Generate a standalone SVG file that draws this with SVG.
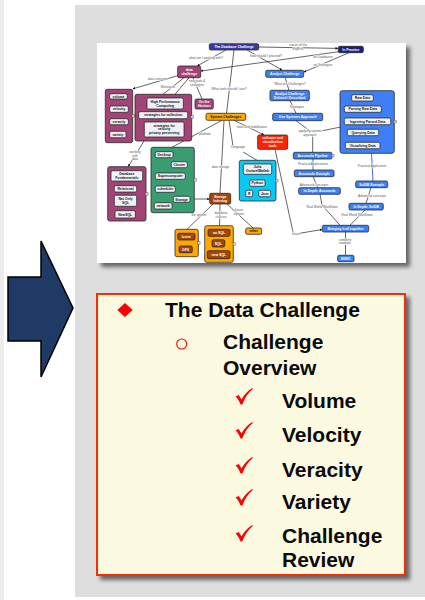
<svg xmlns="http://www.w3.org/2000/svg" width="425" height="600" viewBox="0 0 425 600">
  <defs>
    <filter id="shadow" x="-10%" y="-10%" width="130%" height="130%">
      <feGaussianBlur in="SourceAlpha" stdDeviation="2.2"/>
      <feOffset dx="4" dy="4" result="b"/>
      <feComponentTransfer><feFuncA type="linear" slope="0.55"/></feComponentTransfer>
      <feMerge><feMergeNode/><feMergeNode in="SourceGraphic"/></feMerge>
    </filter>
    <marker id="ah" viewBox="0 0 10 10" refX="9" refY="5" markerWidth="2.6" markerHeight="2.6" markerUnits="userSpaceOnUse" orient="auto">
      <path d="M0,0 L10,5 L0,10 z" fill="#111"/>
    </marker>
    <path id="tick" d="M0,8.5 L3.2,7 L6,11.5 C9,6 12.5,2.5 17,0 L17.3,1 C12.8,4.8 9.3,9.5 6.8,16.5 L5,16.5 C3.8,13 2.2,10.5 0,8.5 z"/>
    <style>
      .panel { fill: #dedede; }
      .map { fill: #ffffff; }
      .ln { stroke: #111; stroke-width: 0.65; fill: none; }
      .lnb { stroke: #2a3fd0; stroke-width: 0.8; fill: none; }
      .lbl { font-family: "Liberation Sans", Arial, sans-serif; font-size: 3.2px; fill: #555; text-anchor: middle; stroke: #fff; stroke-width: 0.8; paint-order: stroke; }
      .nt { font-family: "Liberation Sans", Arial, sans-serif; font-size: 3.4px; font-weight: bold; text-anchor: middle; }
      .w { fill: #ffffff; }
      .k { fill: #111111; }
      .box { stroke: #2a2a2a; stroke-width: 0.8; }
      .item { fill: #eef2f7; stroke: #1a1a1a; stroke-width: 0.7; }
      .mag { fill: #a34476; }
      .blu { fill: #3f7ff5; }
      .dkb { fill: #3b3b9e; }
      .nav { fill: #1c1c86; }
      .grn { fill: #3a9d72; }
      .cyn { fill: #08c8f4; }
      .org { fill: #ffa800; }
      .brn { fill: #a2470e; }
      .red { fill: #ff2400; }
      .ico { fill: #cfcfcf; stroke: #555; stroke-width: 0.4; }
      .bul { font-family: "Liberation Sans", Arial, sans-serif; font-size: 21px; font-weight: bold; fill: #0a0a0a; }
      .chk { fill: #ff0000; }
    </style>
  </defs>

  <!-- page background -->
  <rect x="0" y="0" width="425" height="600" fill="#ffffff"/>
  <rect x="0" y="0" width="4" height="600" fill="#ececec"/>
  <rect class="panel" x="75" y="5" width="350" height="592"/>

  <!-- pointer arrow -->
  <g id="pointer">
    <path d="M8,277 L41,277 L41,241 L73,308 L41,377 L41,341 L8,341 z" fill="#1f3a64" stroke="#000" stroke-width="1.5" stroke-linejoin="miter"/>
  </g>

  <!-- concept map sheet -->
  <g id="concept-map">
    <rect class="map" x="97" y="43" width="309" height="220" filter="url(#shadow)"/>

    <g id="connectors">
      <path class="ln" d="M258.7,47 L337.8,48.4" marker-end="url(#ah)"/>
      <path class="ln" d="M226,50 L197.5,65.8" marker-end="url(#ah)"/>
      <path class="ln" d="M234,50 L226.5,113.3"/>
      <path class="ln" d="M247,50 L282,70.1" marker-end="url(#ah)"/>
      <path class="ln" d="M340,51.5 L201,71" marker-end="url(#ah)"/>
      <path class="ln" d="M349,52.7 L304,72" marker-end="url(#ah)"/>
      <path class="ln" d="M180,75 L133,88.8" marker-end="url(#ah)"/>
      <path class="ln" d="M184,77.7 L163,94.3"/>
      <path class="ln" d="M189,77.7 L175,94.3"/>
      <path class="ln" d="M193,77.7 L202,99"/>
      <path class="ln" d="M144,141 L128.3,166.4" marker-end="url(#ah)"/>
      <path class="ln" d="M222,120.3 L172,147.3"/>
      <path class="ln" d="M234,120.3 L263.8,134.8" marker-end="url(#ah)"/>
      <path class="ln" d="M229,120.3 L233,146 M243,152 L257,160.3"/>
      <path class="ln" d="M224,120.3 L220,193.3"/>
      <path class="ln" d="M194.3,199 L209.5,199" marker-end="url(#ah)"/>
      <path class="ln" d="M213,204 L187,229.3"/>
      <path class="ln" d="M220,204 L219.6,225.7"/>
      <path class="ln" d="M227,204 L253,228"/>
      <path class="ln" d="M275,149.3 L293.5,234.3 L322.1,229.5" marker-end="url(#ah)"/>
      <path class="ln" d="M285,77.3 L289,90.3"/>
      <path class="ln" d="M290,100.7 L296,113.3"/>
      <path class="ln" d="M296,120.7 L310,131 M312.7,136.5 L312.7,152.3"/>
      <path class="ln" d="M322.5,130.7 L343.8,126.4" marker-end="url(#ah)"/>
      <path class="lnb" d="M313,159 L313,170"/>
      <path class="ln" d="M313,176.7 L318,187.7"/>
      <path class="ln" d="M320,194.3 L322,205 L340,225.3"/>
      <path class="lnb" d="M371.5,153.3 L373,181"/>
      <path class="ln" d="M371,187.7 L366,203.3"/>
      <path class="ln" d="M365,210 L350,225.3"/>
      <path class="ln" d="M345.5,232 L345.5,255.3"/>

      <!-- link phrases -->
      <text class="lbl" x="298" y="46.3">voices of the</text>
      <text class="lbl" x="298" y="50">Experts</text>
      <text class="lbl" x="206" y="59">what am I working with?</text>
      <text class="lbl" x="229" y="90">What tools should I use?</text>
      <text class="lbl" x="266" y="57">how should I proceed?</text>
      <text class="lbl" x="323" y="58">on Databases</text>
      <text class="lbl" x="323" y="66.3">on Strategies</text>
      <text class="lbl" x="158" y="80">data concepts</text>
      <text class="lbl" x="168" y="88.4">Motivation</text>
      <text class="lbl" x="197" y="82.3">new tools &amp;</text>
      <text class="lbl" x="197" y="86.2">strategies</text>
      <text class="lbl" x="135" y="153">working</text>
      <text class="lbl" x="135" y="156.6">with</text>
      <text class="lbl" x="135" y="160.4">data</text>
      <text class="lbl" x="205" y="135">platform</text>
      <text class="lbl" x="252" y="128.4">tools and middleware</text>
      <text class="lbl" x="238" y="148.4">Language</text>
      <text class="lbl" x="220.5" y="168.4">data storage</text>
      <text class="lbl" x="199" y="215.8">file system</text>
      <text class="lbl" x="221" y="213.8">database</text>
      <text class="lbl" x="221" y="217.6">choices</text>
      <text class="lbl" x="239" y="211.4">future</text>
      <text class="lbl" x="239" y="215.4">options</text>
      <text class="lbl" x="296" y="235">future</text>
      <text class="lbl" x="290" y="85">What are Challenges?</text>
      <text class="lbl" x="297" y="108.4">Strategies</text>
      <text class="lbl" x="310" y="132">applying system</text>
      <text class="lbl" x="310" y="135.7">approach</text>
      <text class="lbl" x="313" y="165">Practical Applications</text>
      <text class="lbl" x="314" y="185.7">Advanced Concepts</text>
      <text class="lbl" x="322" y="208">Real World Workflows</text>
      <text class="lbl" x="372" y="166.7">Practical Application</text>
      <text class="lbl" x="372" y="197.4">Advanced concepts</text>
      <text class="lbl" x="357" y="216">Real World Workflows</text>
      <text class="lbl" x="345" y="240.7">complete</text>
      <text class="lbl" x="345" y="244.4">example</text>
    </g>

    <!-- top level -->
    <g id="n-database-challenge">
      <rect class="box dkb" x="209.3" y="43.7" width="49.4" height="6.3" rx="1.5"/>
      <text class="nt w" x="234" y="48.1">The Database Challenge</text>
    </g>
    <g id="n-in-practice">
      <rect class="box nav" x="338.3" y="46.3" width="25" height="6.4" rx="1.5"/>
      <text class="nt w" x="350.8" y="50.7">In Practice</text>
    </g>
    <g id="n-data-challenge">
      <rect class="box mag" x="177.7" y="66" width="23" height="11.7" rx="1.5"/>
      <text class="nt w" x="189.2" y="71">data</text>
      <text class="nt w" x="189.2" y="75">challenge</text>
    </g>
    <g id="n-horizon">
      <rect class="box mag" x="195" y="99" width="18.3" height="10" rx="1.5"/>
      <text class="nt w" x="204.2" y="103.3">On the</text>
      <text class="nt w" x="204.2" y="107.2">Horizon</text>
    </g>

    <!-- the Vs -->
    <g id="n-vs">
      <rect class="box mag" x="105.3" y="89.3" width="27.4" height="53.4" rx="2"/>
      <rect class="item" x="109.7" y="93.7" width="17.6" height="5.3" rx="1.5"/>
      <text class="nt k" x="118.5" y="97.5">volume</text>
      <rect class="item" x="109.7" y="106" width="18.6" height="6.3" rx="1.5"/>
      <text class="nt k" x="119" y="110.3">velocity</text>
      <rect class="item" x="109.7" y="118.7" width="18.6" height="6" rx="1.5"/>
      <text class="nt k" x="119" y="122.9">veracity</text>
      <rect class="item" x="109.7" y="131.3" width="16.3" height="6.4" rx="1.5"/>
      <text class="nt k" x="117.9" y="135.6">variety</text>
      <rect class="ico" x="132" y="114.5" width="2.6" height="2.6"/>
    </g>

    <g id="n-motivation">
      <rect class="box mag" x="135" y="94.3" width="56.7" height="46.7" rx="2"/>
      <rect class="item" x="147" y="98" width="36.3" height="11" rx="1.5"/>
      <text class="nt k" x="165.2" y="102.7">High Performance</text>
      <text class="nt k" x="165.2" y="106.6">Computing</text>
      <rect class="item" x="138.7" y="111.7" width="49" height="7" rx="1.5"/>
      <text class="nt k" x="163.2" y="116.3">strategies for collection</text>
      <rect class="item" x="144.3" y="122" width="39.7" height="15" rx="1.5"/>
      <text class="nt k" x="164.2" y="126.6">strategies for</text>
      <text class="nt k" x="164.2" y="130.4">velocity</text>
      <text class="nt k" x="164.2" y="134.3">privacy preserving</text>
      <rect class="ico" x="191" y="115.7" width="2.6" height="2.6"/>
    </g>

    <g id="n-db-fundamentals">
      <rect class="box mag" x="107.7" y="166.7" width="38.3" height="54.3" rx="2"/>
      <rect class="item" x="111" y="170.7" width="31.7" height="10.3" rx="1.5"/>
      <text class="nt k" x="126.8" y="175">Database</text>
      <text class="nt k" x="126.8" y="178.9">Fundamentals</text>
      <rect class="item" x="114.3" y="185.7" width="22.4" height="6.3" rx="1.5"/>
      <text class="nt k" x="125.5" y="190">Relational</text>
      <rect class="item" x="114.3" y="195.3" width="22.4" height="11" rx="1.5"/>
      <text class="nt k" x="125.5" y="200">Not Only</text>
      <text class="nt k" x="125.5" y="203.9">SQL</text>
      <rect class="item" x="115" y="210.7" width="20.3" height="7.3" rx="1.5"/>
      <text class="nt k" x="125.2" y="215.5">NewSQL</text>
      <rect class="ico" x="145.5" y="192.7" width="2.6" height="2.6"/>
    </g>

    <!-- system challenges -->
    <g id="n-system-challenges">
      <rect class="box org" x="206" y="113.3" width="39.7" height="7" rx="1.5"/>
      <text class="nt k" x="225.8" y="118">System Challenges</text>
    </g>
    <g id="n-platform">
      <rect class="box grn" x="151" y="147.3" width="43.3" height="65.4" rx="2"/>
      <rect class="item" x="155.3" y="151.7" width="17.7" height="6" rx="1.5"/>
      <text class="nt k" x="164.2" y="155.9">Desktop</text>
      <rect class="item" x="171.3" y="161.7" width="16" height="6" rx="1.5"/>
      <text class="nt k" x="179.3" y="165.9">Cluster</text>
      <rect class="item" x="155.3" y="173" width="30" height="6.3" rx="1.5"/>
      <text class="nt k" x="170.3" y="177.3">Supercomputer</text>
      <rect class="item" x="155.3" y="186" width="20" height="6.3" rx="1.5"/>
      <text class="nt k" x="165.3" y="190.3">scheduler</text>
      <rect class="item" x="173.3" y="196.3" width="16.7" height="6" rx="1.5"/>
      <text class="nt k" x="181.6" y="200.5">Storage</text>
      <rect class="item" x="154.3" y="202.7" width="17.7" height="6.3" rx="1.5"/>
      <text class="nt k" x="163.2" y="207">network</text>
      <rect class="ico" x="194" y="178.7" width="2.6" height="2.6"/>
    </g>
    <g id="n-languages">
      <rect class="box cyn" x="239.3" y="160.3" width="36.7" height="40.7" rx="2"/>
      <rect class="item" x="243.3" y="164" width="28.4" height="10.3" rx="1.5"/>
      <text class="nt k" x="257.5" y="168.4">Julia</text>
      <text class="nt k" x="257.5" y="172.3">Octave/Matlab</text>
      <rect class="item" x="249.7" y="180" width="15.3" height="6.3" rx="1.5"/>
      <text class="nt k" x="257.3" y="184.3">Python</text>
      <rect class="item" x="245.7" y="190.3" width="7" height="6.4" rx="1.5"/>
      <text class="nt k" x="249.2" y="194.7">R</text>
      <rect class="item" x="258.7" y="190.3" width="12" height="6.4" rx="1.5"/>
      <text class="nt k" x="264.7" y="194.7">Java</text>
      <rect class="ico" x="275.5" y="179.4" width="2.6" height="2.6"/>
    </g>
    <g id="n-software-tools">
      <rect class="box red" x="257.7" y="135" width="30" height="14.3" rx="1.5"/>
      <text class="nt w" x="272.7" y="139.2">software and</text>
      <text class="nt w" x="272.7" y="143">visualization</text>
      <text class="nt w" x="272.7" y="146.8">tools</text>
    </g>
    <g id="n-storage-indexing">
      <rect class="box brn" x="209.7" y="193.3" width="21" height="10.7" rx="1.5"/>
      <text class="nt w" x="220.2" y="197.9">Storage</text>
      <text class="nt w" x="220.2" y="201.7">Indexing</text>
    </g>
    <g id="n-file-systems">
      <rect class="box org" x="175" y="229.3" width="23.3" height="27.4" rx="2"/>
      <rect class="item brn" x="177.7" y="233.3" width="17.3" height="6.7" rx="1.5"/>
      <text class="nt w" x="186.3" y="237.8">lustre</text>
      <rect class="item brn" x="179" y="246" width="13.3" height="6.7" rx="1.5"/>
      <text class="nt w" x="185.6" y="250.5">GFS</text>
      <rect class="ico" x="197.5" y="241.7" width="2.6" height="2.6"/>
    </g>
    <g id="n-databases">
      <rect class="box org" x="204.7" y="225.7" width="28.6" height="36.6" rx="2"/>
      <rect class="item brn" x="208" y="229.3" width="22" height="7" rx="1.5"/>
      <text class="nt w" x="219" y="233.9">no SQL</text>
      <rect class="item brn" x="212" y="239.7" width="12.7" height="7.3" rx="1.5"/>
      <text class="nt w" x="218.3" y="244.5">SQL</text>
      <rect class="item brn" x="207.3" y="250.7" width="22.7" height="8" rx="1.5"/>
      <text class="nt w" x="218.7" y="255.9">new SQL</text>
      <rect class="ico" x="233" y="242.7" width="2.6" height="2.6"/>
    </g>
    <g id="n-other">
      <rect class="box org" x="245.7" y="228" width="16" height="6.3" rx="1.5"/>
      <text class="nt k" x="253.7" y="232.3">other</text>
    </g>

    <!-- analyst track -->
    <g id="n-analyst-challenge">
      <rect class="box blu" x="265.7" y="70.3" width="38" height="7" rx="1.5"/>
      <text class="nt w" x="284.7" y="75">Analyst Challenge</text>
    </g>
    <g id="n-analyst-defined">
      <rect class="box blu" x="270" y="90.3" width="39.3" height="10.4" rx="1.5"/>
      <text class="nt w" x="289.6" y="94.6">Analyst Challenge</text>
      <text class="nt w" x="289.6" y="98.5">Defined / Described</text>
    </g>
    <g id="n-systems-approach">
      <rect class="box blu" x="272.7" y="113.3" width="50" height="7.4" rx="1.5"/>
      <text class="nt w" x="297.7" y="118.2">Use Systems Approach</text>
    </g>
    <g id="n-data-pipeline">
      <rect class="box blu" x="340" y="90.7" width="54.3" height="62.6" rx="2.5"/>
      <rect class="item" x="351.7" y="94.7" width="21.6" height="6.3" rx="1.5"/>
      <text class="nt k" x="362.5" y="99">Raw Data</text>
      <rect class="item" x="344.3" y="106" width="37" height="6.3" rx="1.5"/>
      <text class="nt k" x="362.8" y="110.3">Parsing Raw Data</text>
      <rect class="item" x="344.3" y="118" width="46.4" height="6.7" rx="1.5"/>
      <text class="nt k" x="367.5" y="122.5">Ingesting Parsed Data</text>
      <rect class="item" x="347.3" y="129.3" width="31.4" height="6.4" rx="1.5"/>
      <text class="nt k" x="363" y="133.7">Querying Data</text>
      <rect class="item" x="345.3" y="142.3" width="34.7" height="6.4" rx="1.5"/>
      <text class="nt k" x="362.7" y="146.7">Visualizing Data</text>
      <rect class="ico" x="394" y="120.4" width="2.6" height="2.6"/>
    </g>
    <g id="n-accumulo-pipeline">
      <rect class="box blu" x="293.3" y="152.3" width="38.7" height="6.7" rx="1.5"/>
      <text class="nt w" x="312.6" y="156.9">Accumulo Pipeline</text>
      <rect class="ico" x="331.5" y="154.3" width="2.6" height="2.6"/>
    </g>
    <g id="n-accumulo-example">
      <rect class="box blu" x="294.3" y="170" width="39.7" height="6.7" rx="1.5"/>
      <text class="nt w" x="314.2" y="174.6">Accumulo Example</text>
    </g>
    <g id="n-accumulo-depth">
      <rect class="box blu" x="298.7" y="187.7" width="41.6" height="6.6" rx="1.5"/>
      <text class="nt w" x="319.5" y="192.2">In Depth: Accumulo</text>
    </g>
    <g id="n-scidb-example">
      <rect class="box blu" x="355.7" y="181" width="32" height="6.7" rx="1.5"/>
      <text class="nt w" x="371.7" y="185.6">SciDB Example</text>
    </g>
    <g id="n-scidb-depth">
      <rect class="box blu" x="349" y="203.3" width="34.3" height="6.7" rx="1.5"/>
      <text class="nt w" x="366.2" y="207.9">In Depth: SciDB</text>
    </g>
    <g id="n-bringing-together">
      <rect class="box blu" x="322.3" y="225.3" width="46.4" height="6.7" rx="1.5"/>
      <text class="nt w" x="345.5" y="229.9">Bringing it all together</text>
    </g>
    <g id="n-mimic">
      <rect class="box blu" x="337.7" y="255.3" width="16.3" height="6.4" rx="1.5"/>
      <text class="nt w" x="345.8" y="259.7">MIMIC</text>
    </g>
  </g>

  <!-- outline box -->
  <g id="outline">
    <rect x="97" y="294" width="308" height="281" fill="#fcf9e1" stroke="#ff2a00" stroke-width="2" filter="url(#shadow)"/>
    <path d="M125,303 L132.7,310 L125,317 L117.3,310 z" fill="#ff0000"/>
    <text class="bul" x="165" y="317">The Data Challenge</text>
    <circle cx="181.7" cy="344" r="5" fill="none" stroke="#ff0000" stroke-width="1.1"/>
    <text class="bul" x="223" y="349">Challenge</text>
    <text class="bul" x="223" y="375">Overview</text>
    <use href="#tick" class="chk" x="235.5" y="388"/>
    <text class="bul" x="282" y="408">Volume</text>
    <use href="#tick" class="chk" x="235.5" y="422"/>
    <text class="bul" x="282" y="442">Velocity</text>
    <use href="#tick" class="chk" x="235.5" y="457"/>
    <text class="bul" x="282" y="477">Veracity</text>
    <use href="#tick" class="chk" x="235.5" y="489"/>
    <text class="bul" x="282" y="509">Variety</text>
    <use href="#tick" class="chk" x="235.5" y="525"/>
    <text class="bul" x="282" y="543">Challenge</text>
    <text class="bul" x="282" y="567">Review</text>
  </g>
</svg>
